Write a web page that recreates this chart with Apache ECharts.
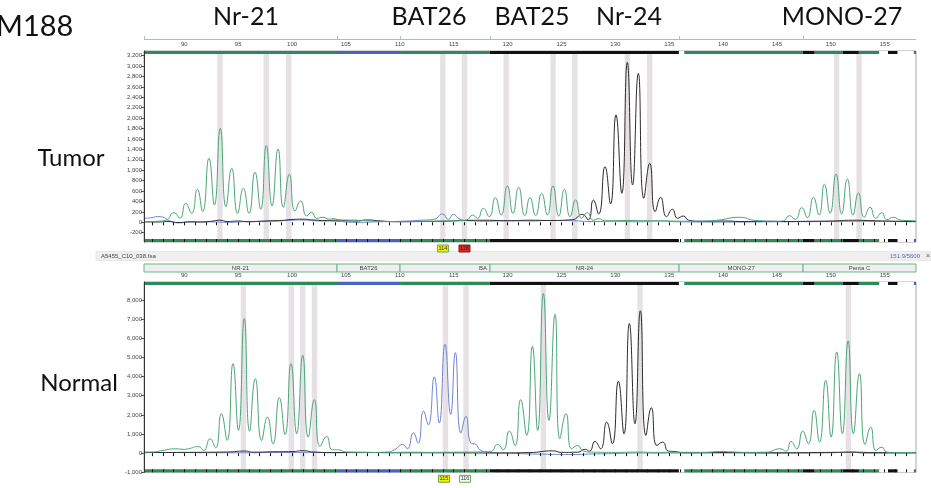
<!DOCTYPE html>
<html><head><meta charset="utf-8">
<script src="https://cdn.jsdelivr.net/npm/echarts@6/dist/echarts.min.js"></script>
<style>html,body{margin:0;padding:0;background:#fff}#c{width:931px;height:488px}</style>
</head><body><div id="c"></div>
<script>
// ---------- DATA ----------
const xTickLabels = [90,95,100,105,110,115,120,125,130,135,140,145,150,155];
const xMinorTicks = [87,88,89,90,91,92,93,94,95,96,97,98,99,100,101,102,103,104,105,106,107,108,109,110,111,112,113,114,115,116,117,118,119,120,121,122,123,124,125,126,127,128,129,130,131,132,133,134,135,136,137,138,139,140,141,142,143,144,145,146,147,148,149,150,151,152,153,154,155,156,157];
const tumorYLabels = [-200,0,200,400,600,800,1000,1200,1400,1600,1800,2000,2200,2400,2600,2800,3000,3200];
const normalYLabels = [-1000,0,1000,2000,3000,4000,5000,6000,7000,8000];

const markerNames = ['Nr-21','BAT26','BAT25','Nr-24','MONO-27'];
const binNames  = ['NR-21','BAT26','BA','NR-24','MONO-27','Penta C'];
const binStarts = [86.26,104.17,110.02,118.37,135.91,147.42];
const binEnds   = [104.17,110.02,118.37,135.91,147.42,157.9];

const tumorBins  = [93.31,97.6,99.69,113.99,116.0,119.87,124.22,126.24,131.12,133.19,150.53,152.62];
const normalBins = [95.49,99.93,100.99,102.08,114.23,116.14,123.32,132.29,151.63];

const tumorCallBp = [114,116];
const tumorCallText = ['114','118'];
const normalCallBp = [114.1,116.05];
const normalCallText = ['115','116'];

// dye strip segments: start, end, dye (0 green, 1 blue, 2 black, 3 none)
const stripStarts = [86.26,104.17,110.02,118.37,135.9,136.4,147.4,148.5,151.1,152.6,154.5,155.3,156.2,157.7];
const stripEnds   = [104.17,110.02,118.37,135.9,136.4,147.4,148.5,151.1,152.6,154.5,155.3,156.2,157.7,157.9];
const stripDyes   = [0,1,0,2,3,0,2,0,2,0,3,2,3,1];

const tumorGreen = [[86.3,10],[87.5,20],[88.3,40],[89.04,186],[89.6,77],[90.13,365],[90.68,173],[91.21,634],[91.7,205],[92.29,1229],[92.79,333],[93.34,1805],[93.87,300],[94.4,1037],[94.95,173],[95.48,653],[96.0,173],[96.56,960],[97.09,250],[97.61,1472],[98.14,314],[98.7,1408],[99.19,288],[99.75,922],[100.27,218],[100.8,410],[101.36,122],[101.82,192],[102.28,77],[102.9,96],[103.4,60],[103.8,70],[104.5,45],[106,40],[108,20],[110,15],[112,20],[114,25],[115.5,30],[116.2,44],[116.76,140],[117.2,77],[117.75,269],[118.3,108],[118.86,474],[119.4,140],[119.98,698],[120.5,173],[121.03,672],[121.6,128],[122.08,474],[122.6,128],[123.16,557],[123.7,140],[124.21,698],[124.75,120],[125.27,634],[125.8,108],[126.32,429],[126.88,77],[127.4,186],[127.95,40],[128.48,70],[129,30],[131,35],[133,30],[135,25],[137,20],[138.5,25],[139.5,40],[141.57,96],[143,35],[145,20],[145.6,30],[146.15,128],[146.7,57],[147.3,281],[147.82,89],[148.38,480],[148.9,140],[149.4,729],[149.93,173],[150.48,928],[151.0,160],[151.53,832],[152.06,140],[152.55,563],[153.1,96],[153.64,288],[154.17,77],[154.72,186],[155.2,50],[155.8,96],[156.5,40],[157.9,30]];
const tumorBlack = [[86.3,10],[87.5,5],[88.5,15],[89.5,-5],[90.5,10],[91.5,5],[92.5,20],[93.3,40],[94,15],[95,25],[96,10],[97,20],[98,30],[99,35],[100,55],[101,60],[102,45],[103,35],[104,40],[105,30],[106,25],[107,45],[108,30],[109,15],[110,10],[112,15],[114,20],[116,35],[118,40],[120,30],[122,40],[124,35],[126,50],[126.94,153],[127.49,45],[127.96,429],[128.45,160],[129.04,1068],[129.55,352],[130.06,2060],[130.6,557],[131.11,3071],[131.6,717],[132.13,2860],[132.65,461],[133.19,1133],[133.7,205],[134.2,480],[134.75,108],[135.29,250],[135.78,77],[136.31,121],[136.8,40],[138,20],[140,25],[142,15],[144,20],[146,15],[148,20],[150,25],[152,40],[154,30],[156,20],[157.9,15]];
const tumorBlue = [[86.3,77],[87,90],[87.5,110],[88,100],[88.6,30],[89.5,-10],[90.5,5],[92,10],[94,0],[96,15],[98,20],[100,40],[101,45],[102,30],[104,20],[106,0],[108,10],[110,20],[112,40],[113.2,60],[113.97,160],[114.5,57],[114.96,153],[115.6,57],[116.5,30],[118,20],[120,30],[122,25],[124,35],[126,30],[128,15],[130,20],[132,10],[134,25],[136,10],[140,5],[145,10],[150,15],[154,20],[157.9,10]];

const normalGreen = [[86.3,52],[87,60],[88,140],[89.2,227],[89.9,200],[90.4,230],[91.3,349],[91.8,140],[92.39,750],[92.9,279],[93.44,2059],[93.97,663],[94.52,4677],[95.02,1187],[95.57,7032],[96.06,1152],[96.59,3891],[97.18,663],[97.71,1885],[98.23,489],[98.82,2897],[99.35,977],[99.9,4677],[100.43,1012],[100.99,5113],[101.5,838],[102.07,2792],[102.6,349],[103.21,873],[103.74,175],[104.3,175],[105,60],[107,40],[109,30],[111,50],[113,40],[115,50],[117,60],[118.4,80],[119.08,454],[119.6,175],[120.16,1152],[120.69,401],[121.21,2792],[121.77,925],[122.3,5584],[122.79,1187],[123.32,8341],[123.84,1710],[124.4,7259],[124.86,750],[125.42,2059],[125.95,227],[126.5,401],[127.03,105],[128,50],[130,40],[132,55],[134,40],[136,45],[138,40],[140,90],[141,60],[142,40],[144,50],[145.28,227],[145.84,105],[146.31,611],[146.83,227],[147.39,1152],[147.91,489],[148.44,2234],[148.94,576],[149.52,3804],[150.02,838],[150.54,5287],[151.07,1012],[151.6,5863],[152.09,1012],[152.65,4153],[153.17,454],[153.7,1361],[154.19,140],[154.72,314],[155.2,50],[156,30],[157.9,40]];
const normalBlack = [[86.3,30],[90,40],[94,60],[95.6,110],[96.5,50],[98,70],[100,80],[101,130],[102,60],[104,30],[106,40],[110,20],[114,20],[118,10],[122,30],[124.2,120],[125,40],[126.5,50],[127.2,200],[127.6,105],[128.11,611],[128.63,227],[129.2,1623],[129.72,489],[130.28,3752],[130.8,1012],[131.3,6771],[131.82,1536],[132.32,7434],[132.84,925],[133.34,2373],[133.86,401],[134.39,576],[134.92,105],[135.4,90],[136.5,20],[140,30],[145,20],[150,40],[152,50],[154,30],[157.9,20]];
const normalBlue = [[86.3,40],[90,30],[95,20],[100,40],[105,25],[107,30],[108.78,60],[109.5,175],[110.27,454],[110.7,227],[111.26,1064],[111.7,523],[112.2,2199],[112.64,1483],[113.2,3979],[113.66,1571],[114.19,5689],[114.72,2024],[115.15,5252],[115.67,1047],[116.14,1920],[116.6,523],[117.07,454],[117.44,175],[118.5,30],[120,0],[122,-40],[124,-60],[126,-70],[128,-40],[130,-20],[132,10],[134,0],[136,10],[140,15],[145,0],[150,20],[152,60],[153,0],[157.9,10]];

// ---------- STYLE / BUILD ----------
const C_GREEN = '#4aa776', C_BLACK = '#2b2b2b', C_BLUE = '#7183cf';
const dyeColors = ['#2e8b57', '#4a63c4', '#111111', '#ffffff'];
const X0 = binStarts[0], X1 = binEnds[binEnds.length-1];
const fmt = v => v.toLocaleString('en-US');

function bandRender(params, api){
  const cs = params.coordSys;
  const c = api.value(0);
  const a = api.coord([c-0.25,0])[0], b = api.coord([c+0.25,0])[0];
  return {type:'rect', shape:{x:a, y:cs.y, width:b-a, height:cs.height}, style:{fill:'#e5e1e5'}};
}
function stripRender(params, api){
  const cs = params.coordSys;
  const a = api.coord([api.value(0),0])[0], b = api.coord([api.value(1),0])[0];
  const col = dyeColors[api.value(2)];
  return {type:'group', children:[
    {type:'rect', shape:{x:a, y:cs.y, width:b-a, height:3}, style:{fill:col}},
    {type:'rect', shape:{x:a, y:cs.y+cs.height-3, width:b-a, height:3}, style:{fill:col}}
  ]};
}
function headerRenderNormal(params, api){
  const cs = params.coordSys;
  const i = api.value(2);
  const a = api.coord([api.value(0),0])[0], b = api.coord([api.value(1),0])[0];
  const name = binNames[i];
  const isCut = name === 'BA';
  return {type:'group', children:[
    {type:'rect', shape:{x:a, y:cs.y-18, width:b-a, height:8}, style:{fill:'#efefef', stroke:'#6cb58a', lineWidth:1}},
    {type:'text', style:{text:name, x:isCut ? b-3 : (a+b)/2, y:cs.y-14, align:isCut?'right':'center', verticalAlign:'middle', fontSize:6, fontFamily:'Liberation Sans', fill:'#444'}}
  ]};
}
function headerRenderTumor(params, api){
  const cs = params.coordSys;
  const a = api.coord([api.value(0),0])[0], b = api.coord([api.value(1),0])[0];
  return {type:'group', children:[
    {type:'line', shape:{x1:a, y1:cs.y-11.5, x2:b, y2:cs.y-11.5}, style:{stroke:'#9bc9ac', lineWidth:1}},
    {type:'line', shape:{x1:a+0.5, y1:cs.y-15, x2:a+0.5, y2:cs.y-11.5}, style:{stroke:'#9bc9ac', lineWidth:1}}
  ]};
}
function makeCallRender(fills, strokes){
  return function(params, api){
    const cs = params.coordSys;
    const i = api.value(1);
    const c = api.coord([api.value(0),0])[0];
    const texts = params.seriesName === 'tcalls' ? tumorCallText : normalCallText;
    return {type:'group', children:[
      {type:'rect', shape:{x:c-5.5, y:cs.y+cs.height+3, width:11, height:7}, style:{fill:fills[i], stroke:strokes[i], lineWidth:1}},
      {type:'text', style:{text:texts[i], x:c, y:cs.y+cs.height+6.5, align:'center', verticalAlign:'middle', fontSize:5.5, fontFamily:'Liberation Sans', fill:'#333'}}
    ]};
  };
}

function xAxes(gi){
  return [
    {gridIndex:gi, type:'value', min:X0, max:X1, position:'top', z:10,
     axisLine:{show:false}, splitLine:{show:false},
     axisTick:{show:true, inside:true, length:3, customValues:xMinorTicks, lineStyle:{color:'#111', width:1}},
     axisLabel:{show:true, customValues:xTickLabels, fontSize:6, color:'#444', margin:4, fontFamily:'Liberation Sans'}},
    {gridIndex:gi, type:'value', min:X0, max:X1, position:'bottom', z:10,
     axisLine:{show:false}, splitLine:{show:false}, axisLabel:{show:false},
     axisTick:{show:true, inside:true, length:3, customValues:xMinorTicks, lineStyle:{color:'#111', width:1}}}
  ];
}
function yAxis(gi, mn, mx, labels){
  return {gridIndex:gi, type:'value', min:mn, max:mx, z:10,
    axisLine:{show:true, lineStyle:{color:'#333', width:1}}, splitLine:{show:false},
    axisTick:{show:true, length:3, customValues:labels, lineStyle:{color:'#555'}},
    axisLabel:{customValues:labels, formatter:fmt, fontSize:6, color:'#444', margin:2, fontFamily:'Liberation Sans'}};
}
function trace(name, data, color, xi, yi){
  return {name, type:'line', data, xAxisIndex:xi, yAxisIndex:yi, smooth:0.55, symbol:'none',
    lineStyle:{color, width:1}, z:3, silent:true, animation:false};
}

const stripData = stripStarts.map((s,i)=>[s, stripEnds[i], stripDyes[i]]);
const headerData = binStarts.map((s,i)=>[s, binEnds[i], i]);

const option = {
  animation:false,
  grid:[
    {left:144, top:51, width:772, height:191, show:true, borderColor:'#a8a8a8', borderWidth:1, backgroundColor:'#fff'},
    {left:144, top:282, width:772, height:190.3, show:true, borderColor:'#a8a8a8', borderWidth:1, backgroundColor:'#fff'}
  ],
  xAxis:[...xAxes(0), ...xAxes(1)],
  yAxis:[yAxis(0,-378,3289,tumorYLabels), yAxis(1,-1000,8940,normalYLabels)],
  series:[
    {type:'custom', name:'tbands', xAxisIndex:0, yAxisIndex:0, data:tumorBins.map(v=>[v,0]), renderItem:bandRender, z:1, silent:true},
    {type:'custom', name:'nbands', xAxisIndex:2, yAxisIndex:1, data:normalBins.map(v=>[v,0]), renderItem:bandRender, z:1, silent:true},
    trace('tBlue', tumorBlue, C_BLUE, 0, 0),
    trace('tBlack', tumorBlack, C_BLACK, 0, 0),
    trace('tGreen', tumorGreen, C_GREEN, 0, 0),
    trace('nBlue', normalBlue, C_BLUE, 2, 1),
    trace('nBlack', normalBlack, C_BLACK, 2, 1),
    trace('nGreen', normalGreen, C_GREEN, 2, 1),
    {type:'custom', name:'tstrip', xAxisIndex:0, yAxisIndex:0, data:stripData, renderItem:stripRender, z:5, silent:true},
    {type:'custom', name:'nstrip', xAxisIndex:2, yAxisIndex:1, data:stripData, renderItem:stripRender, z:5, silent:true},
    {type:'custom', name:'theader', xAxisIndex:0, yAxisIndex:0, data:headerData, renderItem:headerRenderTumor, z:5, silent:true, clip:false},
    {type:'custom', name:'nheader', xAxisIndex:2, yAxisIndex:1, data:headerData, renderItem:headerRenderNormal, z:5, silent:true, clip:false},
    {type:'custom', name:'tcalls', xAxisIndex:0, yAxisIndex:0, data:tumorCallBp.map((v,i)=>[v,i]), renderItem:makeCallRender(['#f2f000','#e3231b'],['#6aa84f','#8a1a10']), z:5, silent:true, clip:false},
    {type:'custom', name:'ncalls', xAxisIndex:2, yAxisIndex:1, data:normalCallBp.map((v,i)=>[v,i]), renderItem:makeCallRender(['#f2f000','#f4fbf6'],['#6aa84f','#6aa84f']), z:5, silent:true, clip:false}
  ],
  graphic:[
    {type:'rect', shape:{x:96, y:251.5, width:835, height:9}, style:{fill:'#efefef', stroke:'#d8d8d8', lineWidth:0.5}, z:0},
    {type:'text', x:101, y:256, style:{text:'A5455_C10_038.fsa', fontSize:6, fontFamily:'Liberation Sans', fill:'#444', verticalAlign:'middle'}},
    {type:'text', x:920, y:256, style:{text:'151.9/5600', fontSize:6, fontFamily:'Liberation Sans', fill:'#5a6aa8', align:'right', verticalAlign:'middle'}},
    {type:'text', x:928, y:256, style:{text:'×', fontSize:7, fontFamily:'Liberation Sans', fill:'#555', align:'center', verticalAlign:'middle'}},
    {type:'text', x:-4, y:27, style:{text:'M188', fontSize:29, fontFamily:'Lato', fill:'#111', verticalAlign:'middle'}},
    {type:'text', x:246, y:17, style:{text:markerNames[0], fontSize:25, fontFamily:'Lato', fill:'#111', align:'center', verticalAlign:'middle'}},
    {type:'text', x:429, y:17, style:{text:markerNames[1], fontSize:25, fontFamily:'Lato', fill:'#111', align:'center', verticalAlign:'middle'}},
    {type:'text', x:532, y:17, style:{text:markerNames[2], fontSize:25, fontFamily:'Lato', fill:'#111', align:'center', verticalAlign:'middle'}},
    {type:'text', x:629, y:17, style:{text:markerNames[3], fontSize:25, fontFamily:'Lato', fill:'#111', align:'center', verticalAlign:'middle'}},
    {type:'text', x:842, y:17, style:{text:markerNames[4], fontSize:25, fontFamily:'Lato', fill:'#111', align:'center', verticalAlign:'middle'}},
    {type:'text', x:71, y:158, style:{text:'Tumor', fontSize:24, fontFamily:'Lato', fill:'#111', align:'center', verticalAlign:'middle'}},
    {type:'text', x:79, y:383, style:{text:'Normal', fontSize:24, fontFamily:'Lato', fill:'#111', align:'center', verticalAlign:'middle'}}
  ]
};
const chart = echarts.init(document.getElementById('c'), null, {renderer:'canvas'});
chart.setOption(option);
</script>
</body></html>
